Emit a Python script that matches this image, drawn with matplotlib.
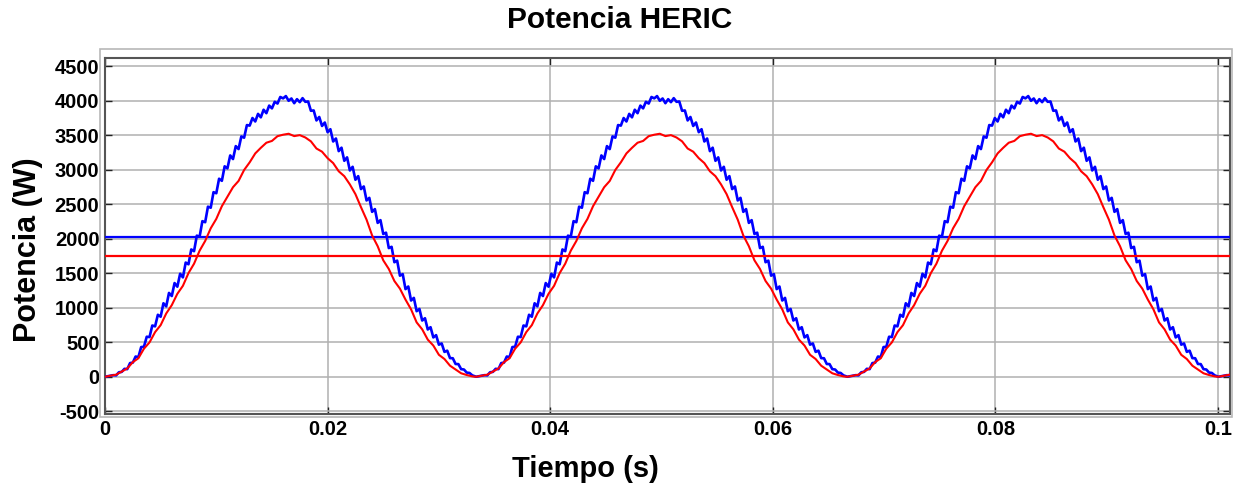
import numpy as np
import matplotlib
matplotlib.use("Agg")
import matplotlib.pyplot as plt
from matplotlib.patches import Rectangle

plt.rcParams['font.family'] = ['Liberation Sans', 'DejaVu Sans']
plt.rcParams['font.weight'] = 'bold'
plt.rcParams['axes.unicode_minus'] = False

# ── Data (one period, repeated by the simulation) ──
PERIOD = 0.03335                 # s, spacing between power zeros
CYCLE_STARTS = [0.0, PERIOD, 2 * PERIOD, 3 * PERIOD]

# blue trace (with switching ripple), sampled every 0.25 ms over one period
BLUE_STEP = 0.00025
blue_cycle = [
    0, 8, 15, 23, 20, 65, 70, 115, 110, 198, 205, 293,
    285, 430, 435, 580, 575, 743, 730, 898, 870, 1065, 1020, 1215,
    1170, 1358, 1305, 1493, 1440, 1655, 1630, 1845, 1820, 2045, 2030, 2255,
    2240, 2465, 2450, 2675, 2660, 2870, 2840, 3050, 3020, 3208, 3155, 3343,
    3300, 3483, 3465, 3648, 3640, 3750, 3700, 3810, 3760, 3870, 3820, 3930,
    3890, 3985, 3960, 4055, 4035, 4068, 4000, 4033, 3965, 4023, 3980, 4038,
    3985, 3990, 3855, 3860, 3715, 3765, 3635, 3685, 3545, 3588, 3410, 3453,
    3270, 3320, 3130, 3180, 2990, 3043, 2855, 2908, 2720, 2758, 2555, 2593,
    2390, 2430, 2230, 2270, 2070, 2088, 1865, 1883, 1660, 1683, 1465, 1488,
    1270, 1308, 1105, 1143, 950, 983, 815, 848, 685, 718, 570, 603,
    465, 483, 360, 378, 270, 268, 185, 183, 110, 105, 60, 55,
    20, 5,
]

# red trace, sampled every 0.5 ms over one period
RED_STEP = 0.0005
red_cycle = [
    0, 15, 30, 75, 120, 212, 268, 407, 498, 647, 748, 917, 1038, 1202,
    1318, 1502, 1638, 1827, 1968, 2152, 2288, 2472, 2608, 2747, 2838, 2997,
    3108, 3237, 3318, 3392, 3418, 3487, 3508, 3522, 3488, 3502, 3468, 3412,
    3308, 3262, 3168, 3097, 2978, 2907, 2788, 2647, 2458, 2277, 2048, 1892,
    1688, 1562, 1388, 1277, 1118, 977, 788, 687, 538, 452, 318, 257,
    160, 105, 50, 25, 5,
]

# average power lines
blue_mean = 2020
red_mean = 1750

x_ticks = [0, 0.02, 0.04, 0.06, 0.08, 0.1]
x_ticklabels = ['0', '0.02', '0.04', '0.06', '0.08', '0.1']
y_ticks = [-500, 0, 500, 1000, 1500, 2000, 2500, 3000, 3500, 4000, 4500]

# ── Build the traces ──────────────────────────────────────────────
def build(cycle, step):
    tc = np.arange(len(cycle)) * step
    t = np.concatenate([tc + s for s in CYCLE_STARTS])
    v = np.concatenate([np.asarray(cycle, float)] * len(CYCLE_STARTS))
    return t, v

t_blue, p_blue = build(blue_cycle, BLUE_STEP)
t_red, p_red = build(red_cycle, RED_STEP)

# ── Plot ──────────────────────────────────────────────────────────
W, H = 1239, 486
fig = plt.figure(figsize=(W / 100, H / 100), dpi=100)
ax = fig.add_axes([105 / W, 1 - 414 / H, (1230 - 105) / W, (414 - 58) / H])

# light outer frame like the MATLAB figure border
fig.patches.append(Rectangle((100 / W, 1 - 417 / H), (1232 - 100) / W,
                             (417 - 49) / H, transform=fig.transFigure,
                             fill=False, edgecolor='#b8b8b8', linewidth=1.2))

ax.plot(t_blue, p_blue, color='#0000ff', linewidth=1.9, zorder=4)
ax.plot(t_red, p_red, color='#ff0000', linewidth=1.5, zorder=5)
ax.axhline(blue_mean, color='#0000ff', linewidth=1.6, zorder=4)
ax.axhline(red_mean, color='#ff0000', linewidth=1.6, zorder=5)

ax.set_xlim(0, 0.10108)
ax.set_ylim(-540, 4620)
ax.set_xticks(x_ticks)
ax.set_xticklabels(x_ticklabels)
ax.set_yticks(y_ticks)
ax.grid(True, color='#b0b0b0', linewidth=1.1, zorder=0)
ax.tick_params(direction='in', length=5, width=1, top=True, right=True,
               labelsize=14.5, pad=4, colors='#222222', labelcolor='black')
for lab in ax.get_xticklabels() + ax.get_yticklabels():
    lab.set_fontweight('bold')
for sp in ax.spines.values():
    sp.set_color('#555555')
    sp.set_linewidth(1.5)

fig.text(0.5, 1 - 20 / H, "Potencia HERIC", fontsize=21.5, fontweight='bold',
         ha='center', va='center')
ax.set_xlabel("Tiempo (s)", fontsize=21, fontweight='bold', labelpad=12)
ax.xaxis.set_label_coords((585 - 105) / (1230 - 105), -0.115, transform=ax.transAxes)
ax.xaxis.label.set_va('top')
ax.set_ylabel("Potencia (W)", fontsize=22, fontweight='bold')
ax.yaxis.set_label_coords(-(105 - 28) / (1230 - 105), (414 - 250) / (414 - 58))
ax.yaxis.label.set_va('center')

fig.savefig("out.png", dpi=100)
plt.close(fig)
